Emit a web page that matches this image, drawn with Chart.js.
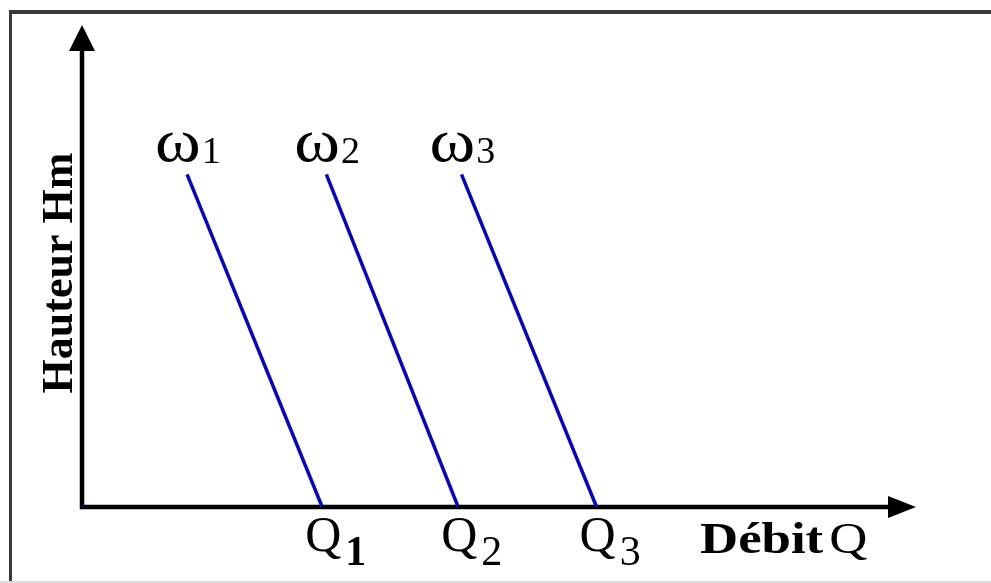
<!DOCTYPE html>
<html>
<head>
<meta charset="utf-8">
<script src="https://cdn.jsdelivr.net/npm/chart.js@4.4.0/dist/chart.umd.min.js"></script>
<style>
  html, body { margin: 0; padding: 0; background: #fff; }
  #wrap { width: 991px; height: 583px; }
</style>
</head>
<body>
<div id="wrap"><canvas id="pompe" width="991" height="583"></canvas></div>
<script>
// Caractéristiques H(Q) d'une pompe pour trois vitesses de rotation
const vitesses = ['ω', 'ω', 'ω'];
const indices = ['1', '2', '3'];
const debitSommet = [1.26, 2.93, 4.55];   // Q au point haut de chaque droite
const debitNul = [2.88, 4.51, 6.17];      // Q1, Q2, Q3 : débit à H = 0
const hauteurSommet = [6.9, 6.9, 6.9];
const couleurs = ['#0808b0', '#0808b0', '#0808b0'];

const SERIF = '"Liberation Serif", "DejaVu Serif", serif';
const ETIRE = 1.2; // texte un peu élargi

function texte(ctx, str, x, y, font, sx) {
  ctx.save();
  ctx.font = font;
  ctx.translate(x, y);
  ctx.scale(sx, 1);
  ctx.fillText(str, 0, 0);
  const w = ctx.measureText(str).width * sx;
  ctx.restore();
  return w;
}

const datasets = vitesses.map((v, i) => ({
  label: v + indices[i],
  data: [
    { x: debitSommet[i], y: hauteurSommet[i] },
    { x: debitNul[i], y: 0 }
  ],
  borderColor: couleurs[i],
  borderWidth: 3.5,
  pointRadius: 0,
  showLine: true,
  fill: false
}));
// petit point bleu à l'origine
datasets.push({
  label: 'origine',
  data: [{ x: 0, y: 0 }],
  pointRadius: 2.5,
  pointBackgroundColor: '#0808b0',
  pointBorderWidth: 0,
  showLine: false
});

const decor = {
  id: 'decor',
  beforeDatasetsDraw(chart) {
    const ctx = chart.ctx;
    const xs = chart.scales.x, ys = chart.scales.y;
    const x0 = xs.getPixelForValue(0), y0 = ys.getPixelForValue(0);
    const top = chart.chartArea.top, right = chart.chartArea.right;
    ctx.save();
    // cadre
    ctx.strokeStyle = '#3a3a3a';
    ctx.lineWidth = 4;
    ctx.beginPath(); ctx.moveTo(9, 12); ctx.lineTo(991, 12); ctx.stroke();
    ctx.lineWidth = 3;
    ctx.beginPath(); ctx.moveTo(10.5, 10); ctx.lineTo(10.5, 583); ctx.stroke();
    ctx.strokeStyle = '#dcdcdc';
    ctx.lineWidth = 2;
    ctx.beginPath(); ctx.moveTo(0, 582); ctx.lineTo(991, 582); ctx.stroke();

    // axes avec flèches
    ctx.strokeStyle = '#000';
    ctx.fillStyle = '#000';
    ctx.lineWidth = 4.5;
    ctx.beginPath();
    ctx.moveTo(x0, top + 24);
    ctx.lineTo(x0, y0);
    ctx.lineTo(right - 26, y0);
    ctx.stroke();
    ctx.beginPath();
    ctx.moveTo(x0, top);
    ctx.lineTo(x0 + 13, top + 26);
    ctx.lineTo(x0 - 13, top + 26);
    ctx.closePath(); ctx.fill();
    ctx.beginPath();
    ctx.moveTo(right, y0);
    ctx.lineTo(right - 28, y0 - 11);
    ctx.lineTo(right - 28, y0 + 11);
    ctx.closePath(); ctx.fill();
    ctx.restore();
  },
  afterDraw(chart) {
    const ctx = chart.ctx;
    const xs = chart.scales.x, ys = chart.scales.y;
    const y0 = ys.getPixelForValue(0);
    ctx.save();
    ctx.fillStyle = '#000';
    ctx.textBaseline = 'alphabetic';
    ctx.textAlign = 'left';

    // ω1, ω2, ω3 au-dessus des droites
    vitesses.forEach((v, i) => {
      const px = xs.getPixelForValue(debitSommet[i]) - 32;
      const py = ys.getPixelForValue(hauteurSommet[i]) - 13;
      const w = texte(ctx, v, px, py, '62px ' + SERIF, 1.12);
      texte(ctx, indices[i], px + w + 1, py + 2, '38px ' + SERIF, 1.0);
    });

    // Q1, Q2, Q3 sous l'axe
    debitNul.forEach((q, i) => {
      const px = xs.getPixelForValue(q) - 17;
      const w = texte(ctx, 'Q', px, y0 + 44, '50px ' + SERIF, 1.0);
      const font = (i === 0 ? 'bold ' : '') + '42px ' + SERIF;
      texte(ctx, indices[i], px + w + 4, y0 + 58, font, 1.0);
    });

    // titres des axes
    const wd = texte(ctx, 'Débit', 700, y0 + 46, 'bold 44px ' + SERIF, ETIRE);
    texte(ctx, 'Q', 700 + wd + 6, y0 + 46, '44px ' + SERIF, ETIRE);

    ctx.save();
    ctx.translate(72, 273);
    ctx.rotate(-Math.PI / 2);
    ctx.textAlign = 'center';
    ctx.font = 'bold 44px ' + SERIF;
    ctx.fillText('Hauteur Hm', 0, 0);
    ctx.restore();
    ctx.restore();
  }
};

new Chart(document.getElementById('pompe'), {
  type: 'scatter',
  data: { datasets },
  options: {
    responsive: false,
    animation: false,
    devicePixelRatio: 1,
    layout: { padding: { left: 82, right: 75, top: 25, bottom: 76 } },
    plugins: { legend: { display: false }, tooltip: { enabled: false } },
    scales: {
      x: { type: 'linear', min: 0, max: 10, display: false },
      y: { type: 'linear', min: 0, max: 10, display: false }
    }
  },
  plugins: [decor]
});
</script>
</body>
</html>
